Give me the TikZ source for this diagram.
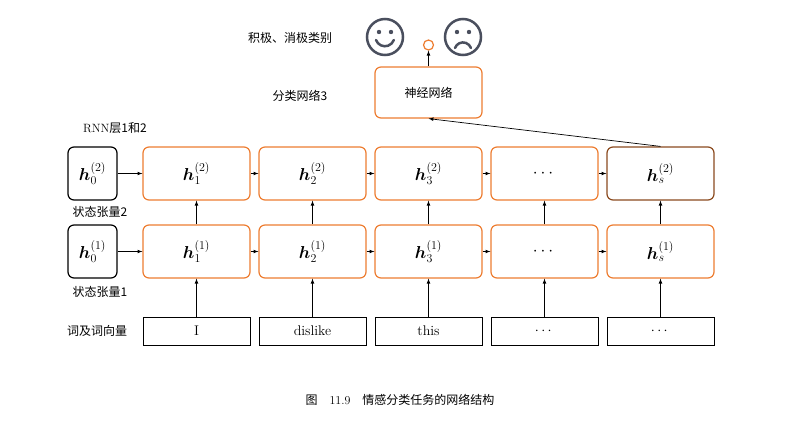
\documentclass[tikz,border=0pt]{standalone}
\usepackage{fontspec}
\usepackage{amsmath,bm}
\newfontfamily\cjk{Noto Sans CJK SC}
\definecolor{org}{HTML}{ED7D31}
\definecolor{brn}{HTML}{8B4A1E}
\definecolor{face}{HTML}{4A4F5E}
\begin{document}
\begin{tikzpicture}[x=1pt,y=-1pt,
 hb/.style={draw=org,line width=1.2pt,rounded corners=6pt,minimum width=107pt,minimum height=53pt,inner sep=0pt,font=\fontsize{17}{19}\selectfont},
 h0/.style={draw=black,line width=1.2pt,rounded corners=6pt,minimum width=49pt,minimum height=53pt,inner sep=0pt,font=\fontsize{17}{19}\selectfont},
 ib/.style={draw=black,line width=0.8pt,minimum width=107pt,minimum height=28pt,inner sep=0pt,font=\fontsize{14}{16}\selectfont},
 lbl/.style={font=\cjk\large},
 ar/.style={-latex,line width=0.7pt}]
\useasboundingbox (0,0) rectangle (801,429);
\node[h0] (z2) at (92.5,173.5) {$\bm{h}_0^{(2)}$};
\node[h0] (z1) at (92.5,251.5) {$\bm{h}_0^{(1)}$};
\foreach \i/\x/\w in {1/196.5/I,2/312.5/dislike,3/428.5/this}{
  \node[hb] (a\i) at (\x,173.5) {$\bm{h}_{\i}^{(2)}$};
  \node[hb] (b\i) at (\x,251.5) {$\bm{h}_{\i}^{(1)}$};
  \node[ib] (c\i) at (\x,331) {\w};
}
\node[hb] (a4) at (544.5,173.5) {$\cdots$};
\node[hb] (b4) at (544.5,251.5) {$\cdots$};
\node[ib] (c4) at (544.5,331) {$\cdots$};
\node[hb,draw=brn] (a5) at (660.5,173.5) {$\bm{h}_s^{(2)}$};
\node[hb] (b5) at (660.5,251.5) {$\bm{h}_s^{(1)}$};
\node[ib] (c5) at (660.5,331) {$\cdots$};
\draw[ar] (z2) -- (a1); \draw[ar] (z1) -- (b1);
\foreach \i/\j in {1/2,2/3,3/4,4/5}{\draw[ar] (a\i) -- (a\j); \draw[ar] (b\i) -- (b\j);}
\foreach \i in {1,...,5}{\draw[ar] (c\i) -- (b\i); \draw[ar] (b\i) -- (a\i);}
\node[hb,minimum height=51pt,font=\cjk\large] (nn) at (428.5,92.5) {神经网络};
\node[circle,draw=org,line width=1.2pt,minimum size=10pt,inner sep=0pt] (o) at (428.5,45) {};
\draw[ar] (nn) -- (o);
\draw[ar] (a5.north) -- (nn.south);
\node[lbl] (l1) at (115,128) {\rmfamily\large RNN\cjk 层1和2};
\node[lbl] (l2) at (100,212) {状态张量2};
\node[lbl] (l3) at (100,292) {状态张量1};
\node[lbl] (l4) at (97,331) {词及词向量};
\node[lbl] (l5) at (290,38) {积极、消极类别};
\node[lbl] (l6) at (300,96) {分类网络3};
\begin{scope}[draw=face,line width=2.5pt,fill=face]
\draw (385,37) circle (18);
\fill (379,32) circle (2.2); \fill (391,32) circle (2.2);
\draw[line cap=round] (376,40) arc[start angle=160,end angle=20,radius=9.5];
\draw (463,37) circle (18);
\fill (457,32) circle (2.2); \fill (469,32) circle (2.2);
\draw[line cap=round] (455,48) arc[start angle=200,end angle=340,radius=8.5];
\end{scope}
\node[lbl] (cap) at (400,400) {图\quad\rmfamily 11.9\quad\cjk 情感分类任务的网络结构};
\end{tikzpicture}
\end{document}
